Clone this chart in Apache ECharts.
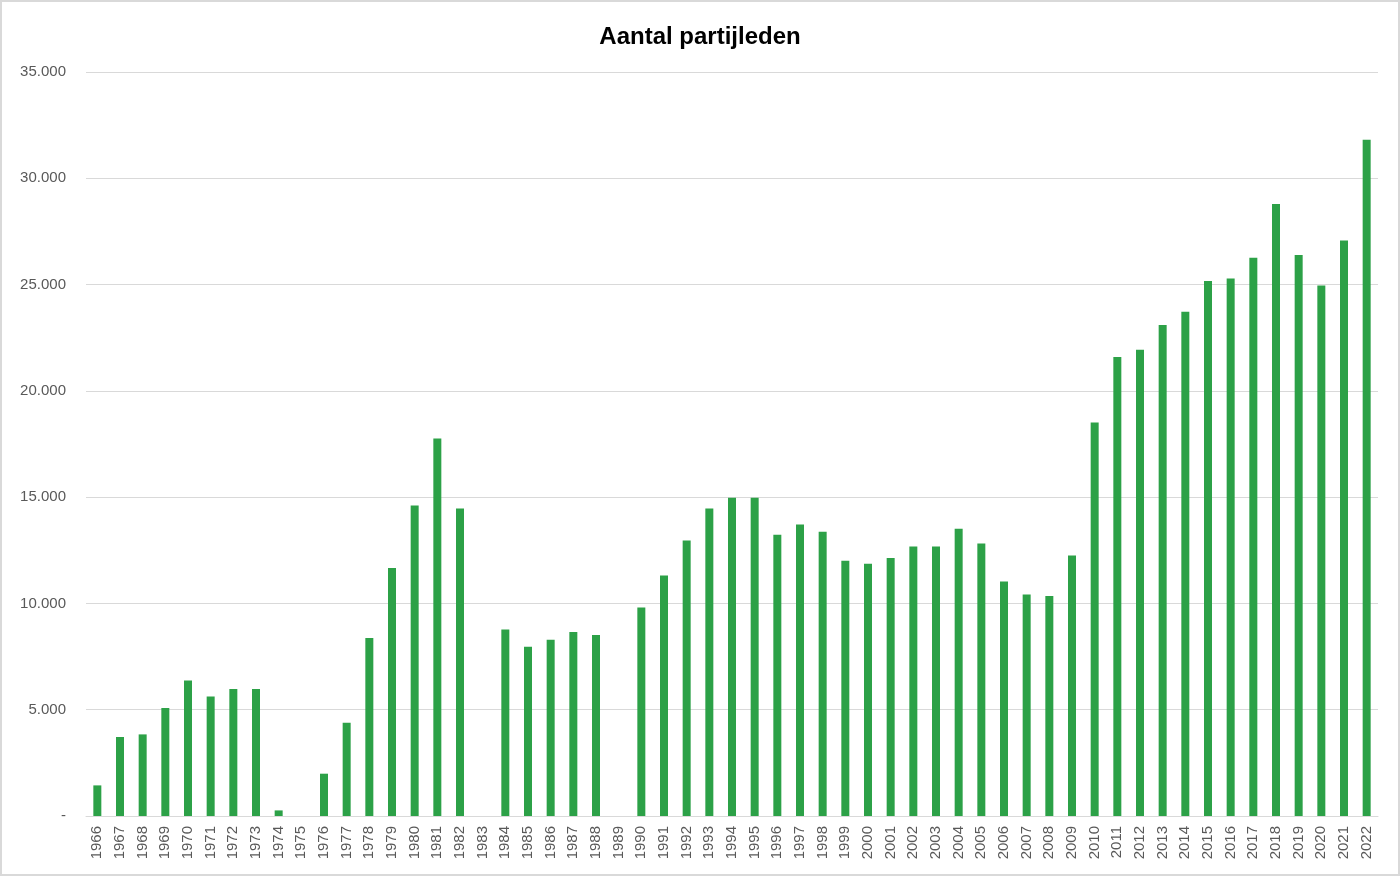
<!DOCTYPE html>
<html>
<head>
<meta charset="utf-8">
<script src="https://cdn.jsdelivr.net/npm/echarts@6/dist/echarts.min.js"></script>
<style>
html,body{margin:0;padding:0;background:#fff;}
#chart{width:1400px;height:876px;box-sizing:border-box;border:2px solid #d9d9d9;}
</style>
</head>
<body>
<div id="chart"></div>
<script>
const years = ['1966','1967','1968','1969','1970','1971','1972','1973','1974','1975','1976','1977','1978','1979','1980','1981','1982','1983','1984','1985','1986','1987','1988','1989','1990','1991','1992','1993','1994','1995','1996','1997','1998','1999','2000','2001','2002','2003','2004','2005','2006','2007','2008','2009','2010','2011','2012','2013','2014','2015','2016','2017','2018','2019','2020','2021','2022'];
const members = [1440,3716,3839,5080,6379,5626,5974,5974,263,null,1990,4389,8373,11666,14611,17762,14470,null,8778,7964,8293,8655,8514,null,9813,11318,12964,14470,14973,14973,13232,13717,13374,12010,11868,12136,12682,12682,13515,12824,11036,10425,10349,12259,18515,21591,21935,23097,23723,25166,25289,26263,28789,26390,24960,27077,31814];
const yTickValues = [0,5000,10000,15000,20000,25000,30000,35000];
const yTickLabels = ['-','5.000','10.000','15.000','20.000','25.000','30.000','35.000'];
const title = 'Aantal partijleden';

const chart = echarts.init(document.getElementById('chart'));
chart.setOption({
  animation:false,
  title:{text:title,left:'center',top:18,textStyle:{fontFamily:'Liberation Sans',fontWeight:'bold',fontSize:24,color:'#000'}},
  grid:{left:84,right:20,top:70,bottom:58,containLabel:false},
  xAxis:{type:'category',data:years,
    axisLine:{lineStyle:{color:'#d9d9d9',width:1}},
    axisTick:{show:false},
    axisLabel:{interval:0,rotate:90,margin:10,color:'#595959',fontFamily:'Liberation Sans',fontSize:15}},
  yAxis:{type:'value',min:0,max:35000,interval:5000,
    axisLine:{show:false},axisTick:{show:false},
    splitLine:{lineStyle:{color:'#d9d9d9',width:1}},
    axisLabel:{margin:20,color:'#595959',fontFamily:'Liberation Sans',fontSize:15,
      formatter:function(v){const i=yTickValues.indexOf(v);return i>=0?yTickLabels[i]:'';}}},
  series:[{type:'bar',data:members,barWidth:8,itemStyle:{color:'#2ca147'}}]
});
</script>
</body>
</html>
